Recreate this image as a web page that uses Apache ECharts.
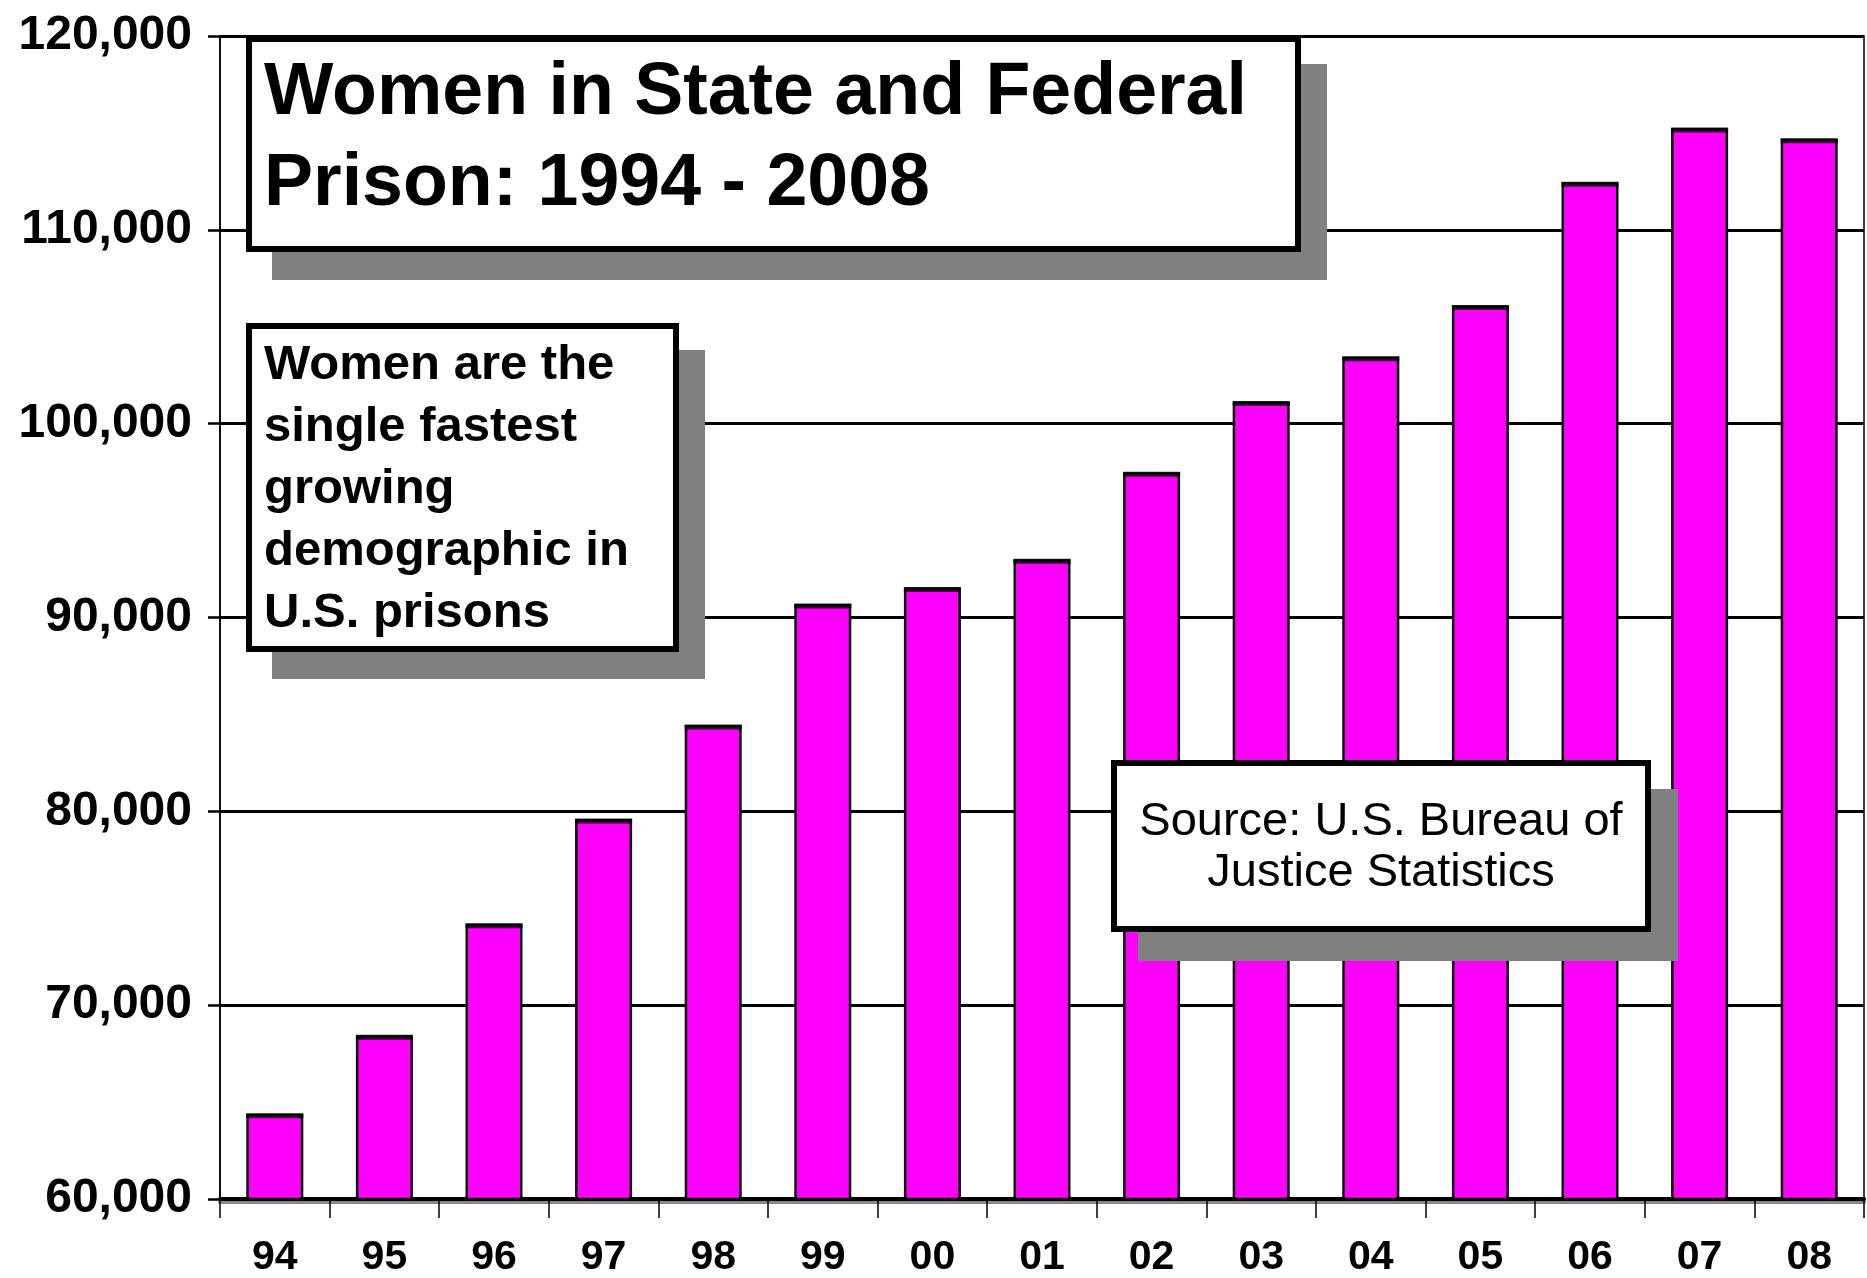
<!DOCTYPE html>
<html>
<head>
<meta charset="utf-8">
<script src="https://cdn.jsdelivr.net/npm/echarts@6/dist/echarts.min.js"></script>
<style>
html,body{margin:0;padding:0;background:#fff;}
#chart{width:1867px;height:1278px;}
</style>
</head>
<body>
<div id="chart"></div>
<script>
const categories = ['94','95','96','97','98','99','00','01','02','03','04','05','06','07','08'];
const womenInPrison = [64400, 68450, 74200, 79600, 84450, 90700, 91550, 93000, 97500, 101150, 103450, 106100, 112450, 115250, 114700];
const yTicks = [60000, 70000, 80000, 90000, 100000, 110000, 120000];
const titleLines = ['Women in State and Federal', 'Prison: 1994 - 2008'];
const noteLines = ['Women are the', 'single fastest', 'growing', 'demographic in', 'U.S. prisons'];
const sourceLines = ['Source: U.S. Bureau of', 'Justice Statistics'];

const FONT = '"Liberation Sans", Arial, sans-serif';
const chart = echarts.init(document.getElementById('chart'), null, {renderer: 'canvas'});

function box(x0, y0, x1, y1, dx, dy) {
  return [
    {type: 'rect', shape: {x: x0 + dx, y: y0 + dy, width: x1 - x0, height: y1 - y0}, style: {fill: '#808080'}, z: 100},
    {type: 'rect', shape: {x: x0 + 3, y: y0 + 3, width: x1 - x0 - 6, height: y1 - y0 - 6}, style: {fill: '#fff', stroke: '#000', lineWidth: 6}, z: 101}
  ];
}
function lines(arr, x, y0, step, size, weight, align) {
  return arr.map((t, i) => ({
    type: 'text', z: 102, x: x, y: y0 + i * step,
    style: {text: t, font: weight + ' ' + size + 'px ' + FONT, fill: '#000', align: align, verticalAlign: 'middle'}
  }));
}

const graphics = [].concat(
  box(246, 36, 1301, 252, 26, 28),
  lines(titleLines, 264, 94, 91, 73.5, 'bold', 'left'),
  box(246, 323, 679, 652, 26, 27),
  lines(noteLines, 264, 365, 62, 49, 'bold', 'left'),
  box(1111, 760, 1651, 932, 27, 29),
  lines(sourceLines, 1381, 822, 51, 47, 'normal', 'center')
);

chart.setOption({
  animation: false,
  backgroundColor: '#fff',
  grid: {left: 220, right: 3, top: 36, bottom: 78, show: true, borderColor: '#000', borderWidth: 1.5},
  xAxis: {
    type: 'category',
    data: categories,
    boundaryGap: true,
    axisLine: {show: true, lineStyle: {color: '#000', width: 4, shadowColor: '#888', shadowOffsetY: 3, shadowBlur: 0}},
    axisTick: {show: true, length: 19, lineStyle: {color: '#000', width: 1.5}},
    axisLabel: {color: '#000', fontFamily: FONT, fontWeight: 'bold', fontSize: 41, margin: 38},
    splitLine: {show: false}
  },
  yAxis: {
    type: 'value',
    min: yTicks[0],
    max: yTicks[yTicks.length - 1],
    interval: yTicks[1] - yTicks[0],
    axisLine: {show: true, lineStyle: {color: '#000', width: 1.5}},
    axisTick: {show: true, length: 12, lineStyle: {color: '#000', width: 2.5}},
    axisLabel: {color: '#000', fontFamily: FONT, fontWeight: 'bold', fontSize: 48, margin: 28,
      formatter: v => v.toLocaleString('en-US')},
    splitLine: {show: true, lineStyle: {color: '#000', width: 3}}
  },
  series: [{
    type: 'bar',
    data: womenInPrison,
    barWidth: '52%',
    itemStyle: {color: '#FF00FF', borderColor: '#000', borderWidth: 2.5},
    z: 3
  }, {
    type: 'scatter',
    data: womenInPrison,
    symbol: 'rect',
    symbolSize: [57, 5],
    symbolOffset: [0, 2],
    itemStyle: {color: '#000'},
    silent: true,
    z: 4
  }],
  graphic: graphics
});
</script>
</body>
</html>
